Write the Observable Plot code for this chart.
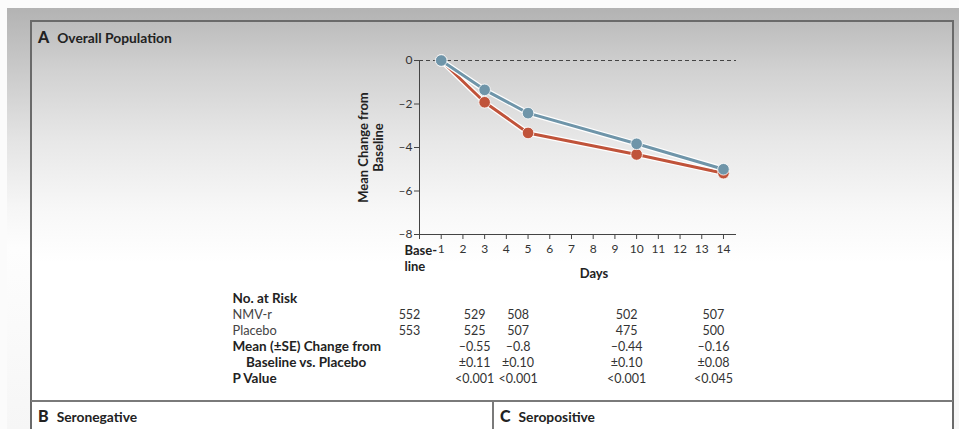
<!DOCTYPE html>
<html>
<head>
<meta charset="utf-8">
<script src="https://cdn.jsdelivr.net/npm/d3@7"></script>
<script src="https://cdn.jsdelivr.net/npm/@observablehq/plot@0.6"></script>
<style>
  html, body { margin: 0; padding: 0; }
  body { width: 959px; height: 429px; position: relative; overflow: hidden; background: #fbfbfb; font-family: Lato, "Open Sans", sans-serif; }
  #bg { position: absolute; left: 7px; top: 8px; right: 0; bottom: 0;
        background: linear-gradient(to bottom, #b3b3b3 0px, #c9c9c9 60px, #e3e3e3 130px, #f6f6f6 200px, #fdfdfd 240px, #f6f6f6 421px); }
  #frame { position: absolute; left: 30px; top: 20px; width: 920px; height: 420px; border: 2px solid #6a6a6a; border-bottom: none;
           background: linear-gradient(to bottom, #bdbdbd 0px, #d2d2d2 50px, #e8e8e8 120px, #f8f8f8 190px, #ffffff 240px); }
  #hline { position: absolute; left: 31px; top: 400px; width: 922px; height: 2px; background: #7a7a7a; }
  #vline { position: absolute; left: 492px; top: 401px; width: 2px; height: 40px; background: #7a7a7a; }
  .ptitle { position: absolute; font-weight: 700; color: #222; white-space: nowrap; }
  .ptitle b { font-size: 16px; margin-right: 8px; }
  .ptitle span { font-size: 13.8px; }
  #main { position: absolute; left: 340px; top: 40px; }
  #table { position: absolute; left: 220px; top: 285px; }
</style>
</head>
<body>
<div id="bg"></div>
<div id="frame"></div>
<div id="hline"></div>
<div id="vline"></div>
<div class="ptitle" style="left:38px;top:27px"><b>A</b><span>Overall Population</span></div>
<div class="ptitle" style="left:38px;top:406px"><b>B</b><span>Seronegative</span></div>
<div class="ptitle" style="left:500px;top:406px"><b>C</b><span>Seropositive</span></div>
<div id="main"></div>
<div id="table"></div>
<script>
// ---- data ----
const days = [1, 3, 5, 10, 14];
const nmvr = [0, -1.92, -3.33, -4.32, -5.18];     // red series
const placebo = [0, -1.35, -2.42, -3.83, -5.0];   // blue series
const xTicks = [0, 1, 2, 3, 4, 5, 6, 7, 8, 9, 10, 11, 12, 13, 14];
const yTicks = [0, -2, -4, -6, -8];
const baselineLabel = "Base-\nline";
const xLabel = "Days";
const yLabel = "Mean Change from\nBaseline";

const riskDays = [0, 3, 5, 10, 14];
const riskNMVr = [552, 529, 508, 502, 507];
const riskPlacebo = [553, 525, 507, 475, 500];
const diffDays = [3, 5, 10, 14];
const diffMean = ["\u20130.55", "\u20130.8", "\u20130.44", "\u20130.16"];
const diffSE = ["\u00b10.11", "\u00b10.10", "\u00b10.10", "\u00b10.08"];
const pValues = ["<0.001", "<0.001", "<0.001", "<0.045"];
const rowKeys = ["risk", "nmvr", "placebo", "mean1", "mean2", "p"];
const rowLabels = ["No. at Risk", "NMV-r", "Placebo", "Mean (\u00b1SE) Change from", "\u2002\u2002Baseline vs. Placebo", "P Value"];
const rowBold = [true, false, false, true, true, true];

const colors = {"NMV-r": "#c0533a", "Placebo": "#6f95a9"};

// ---- main chart ----
const redData = days.map((d, i) => ({day: d, value: nmvr[i], group: "NMV-r"}));
const blueData = days.map((d, i) => ({day: d, value: placebo[i], group: "Placebo"}));

const seriesMarks = (data) => [
  Plot.line(data, {x: "day", y: "value", stroke: "white", strokeWidth: 5.5}),
  Plot.line(data, {x: "day", y: "value", stroke: colors[data[0].group], strokeWidth: 3}),
  Plot.dot(data, {x: "day", y: "value", r: 5.8, fill: colors[data[0].group], stroke: "white", strokeWidth: 0.8})
];

const main = Plot.plot({
  width: 420, height: 245,
  marginLeft: 79, marginTop: 20, marginRight: 24, marginBottom: 51,
  x: {domain: [0, 14.6], axis: null},
  y: {domain: [-8, 0], axis: null},
  style: {background: "transparent", fontFamily: "Lato, 'Open Sans', sans-serif", fontSize: "12px", color: "#333", overflow: "visible"},
  marks: [
    Plot.ruleY([0], {x1: 0, x2: 14.6, stroke: "#444", strokeWidth: 1, strokeDasharray: "4,3"}),
    Plot.ruleX([0], {y1: 0, y2: -8.2, stroke: "#444", strokeWidth: 1}),
    Plot.ruleY([-8], {x1: -0.15, x2: 14.6, stroke: "#444", strokeWidth: 1}),
    Plot.axisY({ticks: yTicks, tickSize: 5, tickPadding: 2, label: null, stroke: "#444", fill: "#333", fontSize: 12,
                tickFormat: d => d === 0 ? "0" : "\u2013" + Math.abs(d)}),
    Plot.axisX({ticks: xTicks, tickSize: 5, tickPadding: 5, label: null, stroke: "#444", fill: "#333", fontSize: 12,
                tickFormat: d => d === 0 ? "" : String(d)}),
    Plot.text([baselineLabel], {x: 0, frameAnchor: "bottom", textAnchor: "start", lineAnchor: "top", dx: -15, dy: 9,
                                fontWeight: "bold", fontSize: 13, fill: "#222", lineHeight: 1.25}),
    Plot.text([xLabel], {frameAnchor: "bottom", lineAnchor: "middle", dx: 16, dy: 39, fontWeight: "bold", fontSize: 13, fill: "#222"}),
    Plot.text([yLabel], {frameAnchor: "left", textAnchor: "middle", rotate: -90, dx: -49, fontWeight: "bold", fontSize: 13, fill: "#222", lineHeight: 1.2}),
    ...seriesMarks(redData),
    ...seriesMarks(blueData)
  ]
});
document.getElementById("main").appendChild(main);

// ---- table ----
const labelRows = rowKeys.map((k, i) => ({key: k, label: rowLabels[i], bold: rowBold[i]}));
const cells = [
  ...riskDays.map((d, i) => ({day: d, key: "nmvr", text: String(riskNMVr[i])})),
  ...riskDays.map((d, i) => ({day: d, key: "placebo", text: String(riskPlacebo[i])})),
  ...diffDays.map((d, i) => ({day: d, key: "mean1", text: diffMean[i]})),
  ...diffDays.map((d, i) => ({day: d, key: "mean2", text: diffSE[i]})),
  ...diffDays.map((d, i) => ({day: d, key: "p", text: pValues[i]}))
];

const table = Plot.plot({
  width: 540, height: 105,
  marginLeft: 199, marginRight: 24, marginTop: 11, marginBottom: 11,
  x: {domain: [0, 14.6], axis: null},
  y: {type: "point", domain: rowKeys, padding: 0, axis: null},
  style: {background: "transparent", fontFamily: "Lato, 'Open Sans', sans-serif", fontSize: "12px", color: "#333", overflow: "visible"},
  marks: [
    Plot.text(labelRows.filter(d => d.bold), {y: "key", text: "label", frameAnchor: "left", textAnchor: "start", dx: -187,
                                            fontWeight: "bold", fontSize: 13.5, fill: "#222"}),
    Plot.text(labelRows.filter(d => !d.bold), {y: "key", text: "label", frameAnchor: "left", textAnchor: "start", dx: -187,
                                             fontSize: 12.8, fill: "#444"}),
    Plot.text(cells, {x: "day", y: "key", text: "text", dx: -10, fontSize: 12.5, fill: "#333"})
  ]
});
document.getElementById("table").appendChild(table);
</script>
</body>
</html>
